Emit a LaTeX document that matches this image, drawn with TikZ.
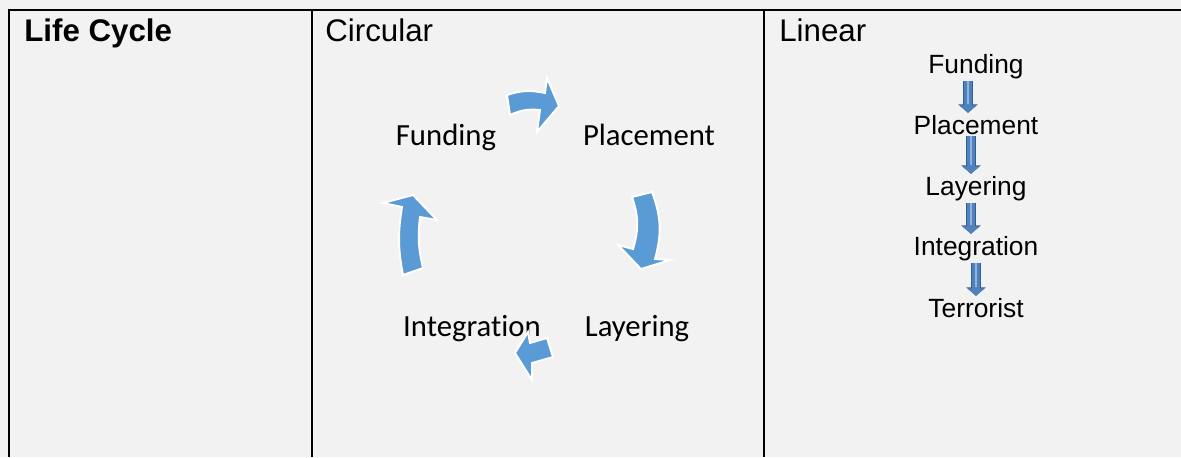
\documentclass[tikz,border=0pt]{standalone}
\usepackage{fontspec}
\setmainfont{Liberation Sans}
\newfontfamily\cyclefont[Ligatures=NoCommon]{Carlito}
\usetikzlibrary{arrows.meta,calc}

\definecolor{pagegrey}{HTML}{F2F2F2}
\definecolor{cycleblue}{HTML}{5B9BD5}
\definecolor{stepblue}{HTML}{4F81BD}
\definecolor{stepedge}{HTML}{385D8A}
\definecolor{steplight}{HTML}{8EB4E3}

\begin{document}
\begin{tikzpicture}[
  x=0.02cm, y=-0.02cm,
  rule/.style={line width=1.15pt},
  colhead/.style={anchor=base west, inner sep=0pt, font=\fontsize{17.8}{21}\selectfont},
  cyc/.style={anchor=base, inner sep=0pt, font=\cyclefont\fontsize{17.5}{20}\selectfont},
  lin/.style={anchor=base, inner sep=0pt, font=\fontsize{15}{17}\selectfont},
  cyclearrow/.style={fill=cycleblue, draw=white, line width=1.1pt, line join=miter},
  arr/.style={line width=4.3pt, draw=stepblue, shorten <=1pt, shorten >=1pt,
    -{Triangle[length=4.2pt, width=9.7pt]},
    preaction={draw=stepedge, line width=5.2pt, -{Triangle[length=4.8pt, width=10.8pt]}},
    postaction={draw=steplight, line width=0.9pt, -, shorten >=5.8pt}},
]
  % page and table rules
  \fill[pagegrey] (0,0) rectangle (1181,457);
  \useasboundingbox (0,0) rectangle (1181,457);
  \draw[rule] (9,457) -- (9,10) -- (1181,10);
  \draw[rule] (312,10) -- (312,457);
  \draw[rule] (764,10) -- (764,457);

  % column headings
  \node[colhead] (hlife) at (24,41)  {\textbf{Life Cycle}};
  \node[colhead] (hcirc) at (325,41) {Circular};
  \node[colhead] (hlin)  at (779,41) {Linear};

  % circular cycle
  \node[cyc] (cfund)  at (446,145) {Funding};
  \node[cyc] (cplace) at (649,145) {Placement};
  \node[cyc] (clayer) at (637,336) {Layering};
  \node[cyc] (cinteg) at (472,336) {Integration};

  \path[cyclearrow] (507,95) to[bend left=15] (545,93) -- (547,78) -- (559,106)
    -- (537,132) -- (540,110) to[bend right=15] (510,115) -- cycle;
  \path[cyclearrow] (632,197) to[bend left=18] (633,249) -- (618,245) -- (641,269)
    -- (670,260) -- (655,259) to[bend right=18] (652,192) -- cycle;
  \path[cyclearrow] (547,338) -- (530,343) -- (528,332) -- (515,353)
    -- (532,380) -- (532,363) -- (553,357) -- cycle;
  \path[cyclearrow] (403,275) to[bend left=10] (402,207) -- (383,203) -- (413,195)
    -- (437,220) -- (420,217) to[bend right=10] (423,268) -- cycle;

  % linear chain
  \node[lin] (lfund)  at (976,73)  {Funding};
  \node[lin] (lplace) at (976,134) {Placement};
  \node[lin] (llayer) at (976,195) {Layering};
  \node[lin] (linteg) at (976,255) {Integration};
  \node[lin] (lterr)  at (976,317) {Terrorist};

  \draw[arr] ($(lfund.south)+(-8,0)$)  -- ($(lplace.north)+(-8,0)$);
  \draw[arr] ($(lplace.south)+(-5,0)$) -- ($(llayer.north)+(-5,0)$);
  \draw[arr] ($(llayer.south)+(-5,0)$) -- ($(linteg.north)+(-5,0)$);
  \draw[arr] (linteg.south) -- (lterr.north);
\end{tikzpicture}
\end{document}
